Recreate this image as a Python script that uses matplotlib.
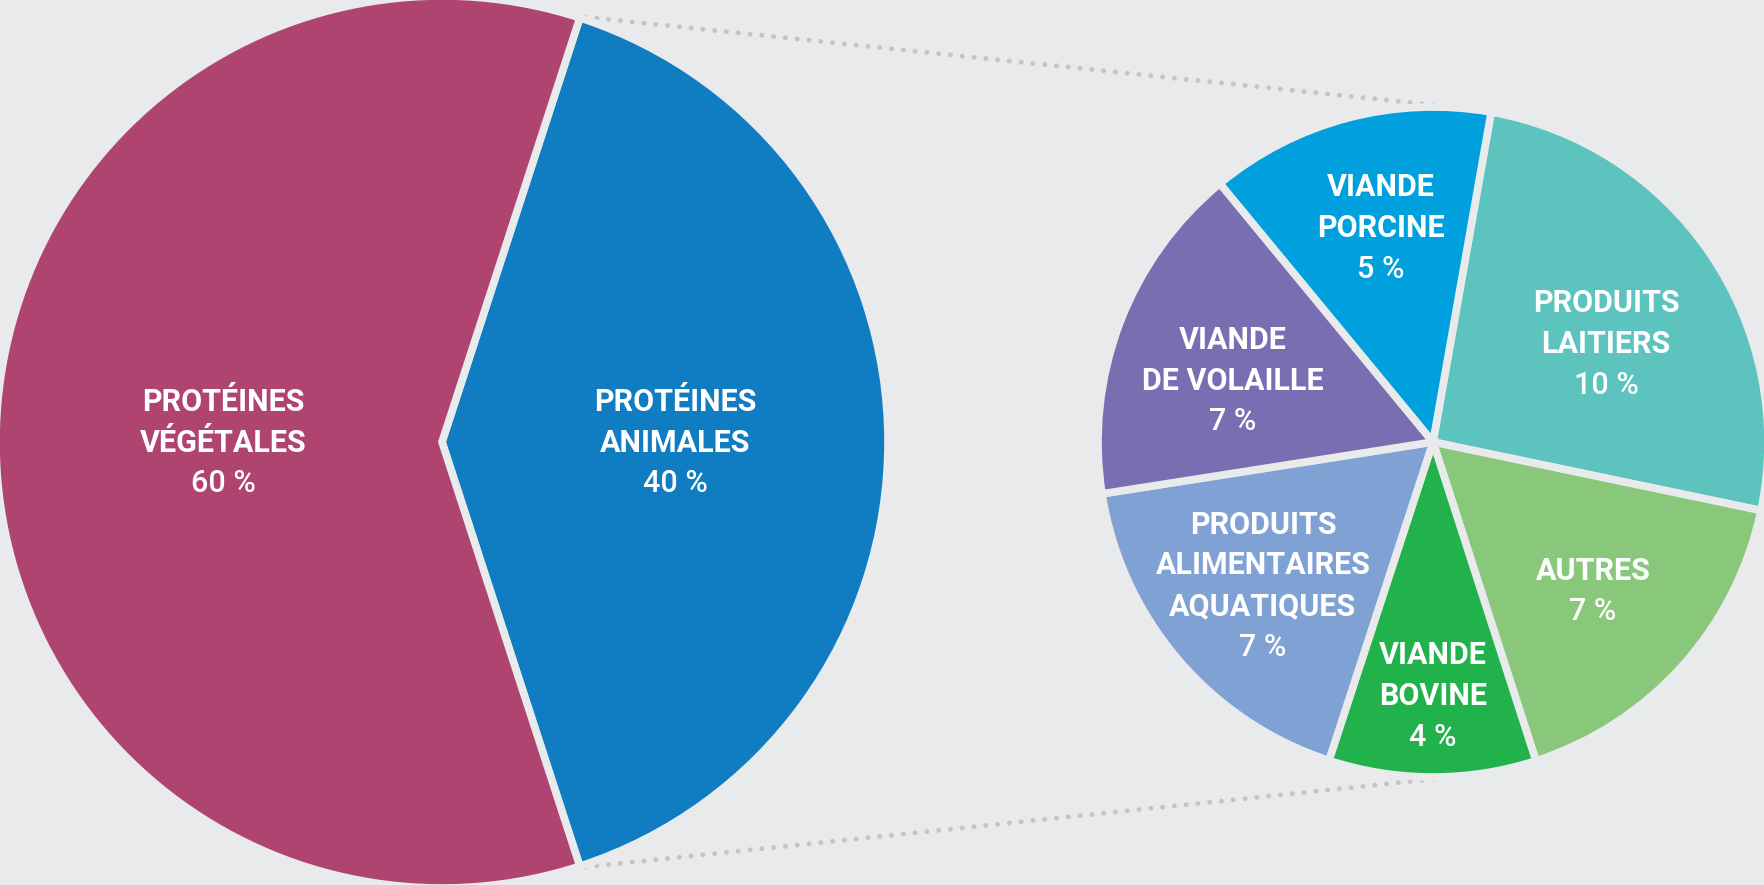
import matplotlib.pyplot as plt

# Données
grandes_parts = ["PROTÉINES\nANIMALES", "PROTÉINES\nVÉGÉTALES"]
grandes_valeurs = [40, 60]
grandes_pct = ["40 %", "60 %"]
grandes_couleurs = ["#107CC1", "#B04470"]

petites_parts = ["PRODUITS\nLAITIERS", "AUTRES", "VIANDE\nBOVINE",
                 "PRODUITS\nALIMENTAIRES\nAQUATIQUES", "VIANDE\nDE VOLAILLE",
                 "VIANDE\nPORCINE"]
petites_valeurs = [10.2, 6.7, 4.0, 7.0, 6.6, 5.5]
petites_pct = ["10 %", "7 %", "4 %", "7 %", "7 %", "5 %"]
petites_couleurs = ["#5CC3BF", "#89C77B", "#22B24C", "#7FA1D4", "#786EB1", "#00A0DF"]

fond = "#E9EAEC"
W, H = 1765, 885
police = ["Roboto", "DejaVu Sans"]

fig = plt.figure(figsize=(W / 100, H / 100), dpi=100, facecolor=fond)
ax = fig.add_axes([0, 0, 1, 1])
ax.set_facecolor(fond)


def y(p):
    return H - p


# lignes pointillées de liaison
for (x0, y0), (x1, y1) in [((585, 17), (1463, 108)), ((585, 867), (1463, 776))]:
    ax.plot([x0, x1], [y(y0), y(y1)], color="#C4C5C8", lw=3.6,
            linestyle=(0, (0.01, 2.36)), dash_capstyle="round", zorder=1)

# grand camembert
ax.pie(grandes_valeurs, colors=grandes_couleurs, startangle=-72,
       center=(442, y(442)), radius=446,
       wedgeprops=dict(edgecolor=fond, linewidth=5.5), frame=True)

# petit camembert
ax.pie(petites_valeurs, colors=petites_couleurs, startangle=80, counterclock=False,
       center=(1433, y(442)), radius=335,
       wedgeprops=dict(edgecolor=fond, linewidth=5.5), frame=True)
ax.set_xlim(0, W)
ax.set_ylim(0, H)
ax.set_aspect("equal")
ax.axis("off")

# positions des étiquettes (centre du bloc, en pixels)
pos = {
    "PROTÉINES\nVÉGÉTALES": (223, 443),
    "PROTÉINES\nANIMALES": (675, 443),
    "VIANDE\nPORCINE": (1381, 228),
    "PRODUITS\nLAITIERS": (1606, 344),
    "VIANDE\nDE VOLAILLE": (1233, 381),
    "PRODUITS\nALIMENTAIRES\nAQUATIQUES": (1263, 586),
    "VIANDE\nBOVINE": (1433, 696),
    "AUTRES": (1593, 591),
}
pas = 41
for texte, pct in zip(grandes_parts + petites_parts, grandes_pct + petites_pct):
    x, yc = pos[texte]
    lignes = texte.split("\n") + [pct]
    n = len(lignes)
    for i, l in enumerate(lignes):
        yy = yc + (i - (n - 1) / 2) * pas
        ax.text(x, y(yy), l, ha="center", va="center", color="white",
                fontsize=22, fontweight="bold" if i < n - 1 else "medium",
                family=police)

fig.savefig("out.png", dpi=100, facecolor=fond)
